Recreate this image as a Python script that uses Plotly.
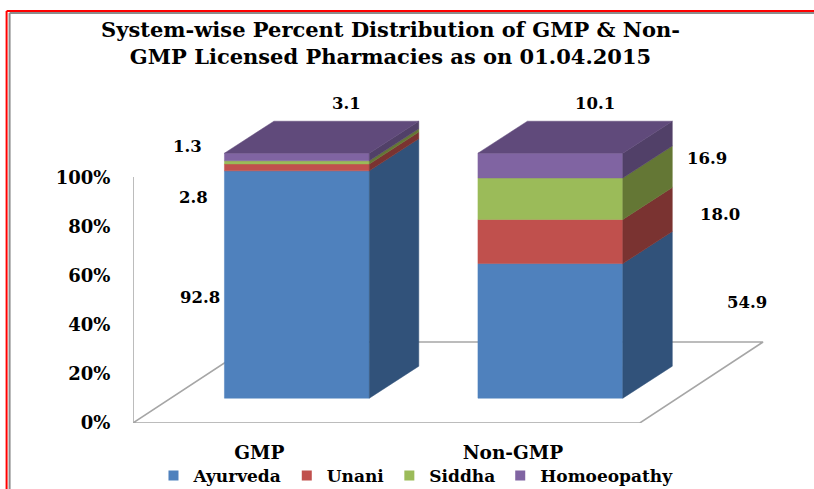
import plotly.graph_objects as go

categories = ["GMP", "Non-GMP"]
series_names = ["Ayurveda", "Unani", "Siddha", "Homoeopathy"]
ayurveda = [92.8, 54.9]
unani = [2.8, 18.0]
siddha = [1.3, 16.9]
homoeopathy = [3.1, 10.1]
tick_values = [0, 20, 40, 60, 80, 100]
tick_labels = ["0%", "20%", "40%", "60%", "80%", "100%"]
series_values = [ayurveda, unani, siddha, homoeopathy]

FONT = "DejaVu Serif"
W, H = 814, 489
X0, Y0 = 132.5, 423.0        # chart corner, in page pixels
SCALE = 2.45                 # pixels per percent


def val(py):
    return (Y0 - py) / SCALE


def px(x):
    return (x - X0) / (W - X0)


def py_paper(y):
    return (Y0 - y) / Y0


FRONT = ["#4F81BD", "#C0504D", "#9BBB59", "#8064A2"]
SIDE = ["#31527A", "#7A3331", "#647735", "#514068"]
TOP = "#604A7B"
GRID = "#A6A6A6"
bar_left = [224.0, 477.7]
bar_width = 145.0
depth_x, depth_y = 49.5, 32.0 / SCALE
base = val(398.2)

fig = go.Figure()


def poly(xs, ys, color, line=None, width=0.6):
    fig.add_trace(go.Scatter(
        x=xs, y=ys, mode="lines", fill="toself" if line is None else "none",
        fillcolor=color, line=dict(color=line or color, width=line and width or 0.5),
        hoverinfo="skip", showlegend=False, cliponaxis=False))


# chart floor and wall
floor_x = [X0, 639.7, 763.0, 256.0, X0]
floor_y = [0, 0, val(342), val(342), 0]
poly(floor_x, floor_y, None, GRID, 1.5)
poly([X0, X0], [0, val(177)], None, GRID, 1.5)

# stacked 3-D bars, built from the values
for c, left in enumerate(bar_left):
    total = sum(s[c] for s in series_values)
    acc = 0.0
    right = left + bar_width
    for s, values in enumerate(series_values):
        v0 = base + acc / total * 100
        acc += values[c]
        v1 = base + acc / total * 100
        poly([left, right, right, left, left], [v0, v0, v1, v1, v0], FRONT[s])
        poly([right, right + depth_x, right + depth_x, right, right],
             [v0, v0 + depth_y, v1 + depth_y, v1, v0], SIDE[s])
    poly([left, right, right + depth_x, left + depth_x, left],
         [v1, v1, v1 + depth_y, v1 + depth_y, v1], TOP)

# legend entries
for name, color in zip(series_names, FRONT):
    fig.add_trace(go.Scatter(
        x=[None], y=[None], mode="markers", name=name,
        marker=dict(symbol="square", size=10, color=color), hoverinfo="skip"))

label_pos = [
    ("3.1", 346, 103), ("10.1", 595, 103), ("1.3", 187, 146), ("2.8", 193, 197),
    ("92.8", 200, 297), ("16.9", 707, 158), ("18.0", 720, 214), ("54.9", 747, 302),
]
annotations = [
    dict(x=x, y=val(y), xref="x", yref="y", text=t, showarrow=False,
         font=dict(family=FONT, size=16.5, color="black", weight="bold"))
    for t, x, y in label_pos
]

fig.update_layout(
    width=W, height=H, autosize=False,
    margin=dict(l=X0, r=0, t=0, b=H - Y0, pad=0, autoexpand=False),
    paper_bgcolor="white", plot_bgcolor="white",
    title=dict(
        text="System-wise Percent Distribution of GMP &amp; Non-<br>GMP Licensed Pharmacies as on 01.04.2015",
        x=390.5 / W, xanchor="center", y=1 - 37 / H, yanchor="top",
        font=dict(family=FONT, size=21, color="black", weight="bold")),
    xaxis=dict(
        range=[X0, W], showgrid=False, zeroline=False, showline=False,
        tickmode="array",
        tickvals=[left + bar_width / 2 - 37.5 for left in bar_left], ticktext=categories,
        ticks="outside", ticklen=13, tickcolor="rgba(0,0,0,0)",
        tickfont=dict(family=FONT, size=18.5, color="black", weight="bold")),
    yaxis=dict(
        range=[0, val(0)], showgrid=False, zeroline=False, showline=False,
        tickmode="array", tickvals=tick_values, ticktext=tick_labels,
        ticks="outside", ticklen=18, tickcolor="rgba(0,0,0,0)",
        tickfont=dict(family=FONT, size=18, color="black", weight="bold")),
    legend=dict(
        orientation="h", x=px(153), xanchor="left", y=py_paper(458), yanchor="top",
        font=dict(family=FONT, size=17, color="black", weight="bold"),
        bgcolor="rgba(0,0,0,0)", traceorder="normal", itemclick=False, itemdoubleclick=False),
    annotations=annotations,
    shapes=[
        dict(type="line", xref="paper", yref="paper", x0=px(6), x1=px(W), y0=py_paper(11), y1=py_paper(11),
             line=dict(color="#FF0000", width=2)),
        dict(type="line", xref="paper", yref="paper", x0=px(6), x1=px(6), y0=py_paper(11), y1=py_paper(H),
             line=dict(color="#FF0000", width=2)),
        dict(type="line", xref="paper", yref="paper", x0=px(9), x1=px(W), y0=py_paper(13), y1=py_paper(13),
             line=dict(color="#8C8C8C", width=2)),
        dict(type="line", xref="paper", yref="paper", x0=px(9), x1=px(9), y0=py_paper(13), y1=py_paper(H),
             line=dict(color="#8C8C8C", width=2)),
    ],
)
fig.write_html("out.html", config=dict(displayModeBar=False),
               post_script="document.body.style.margin='0';document.body.style.overflow='hidden';")
